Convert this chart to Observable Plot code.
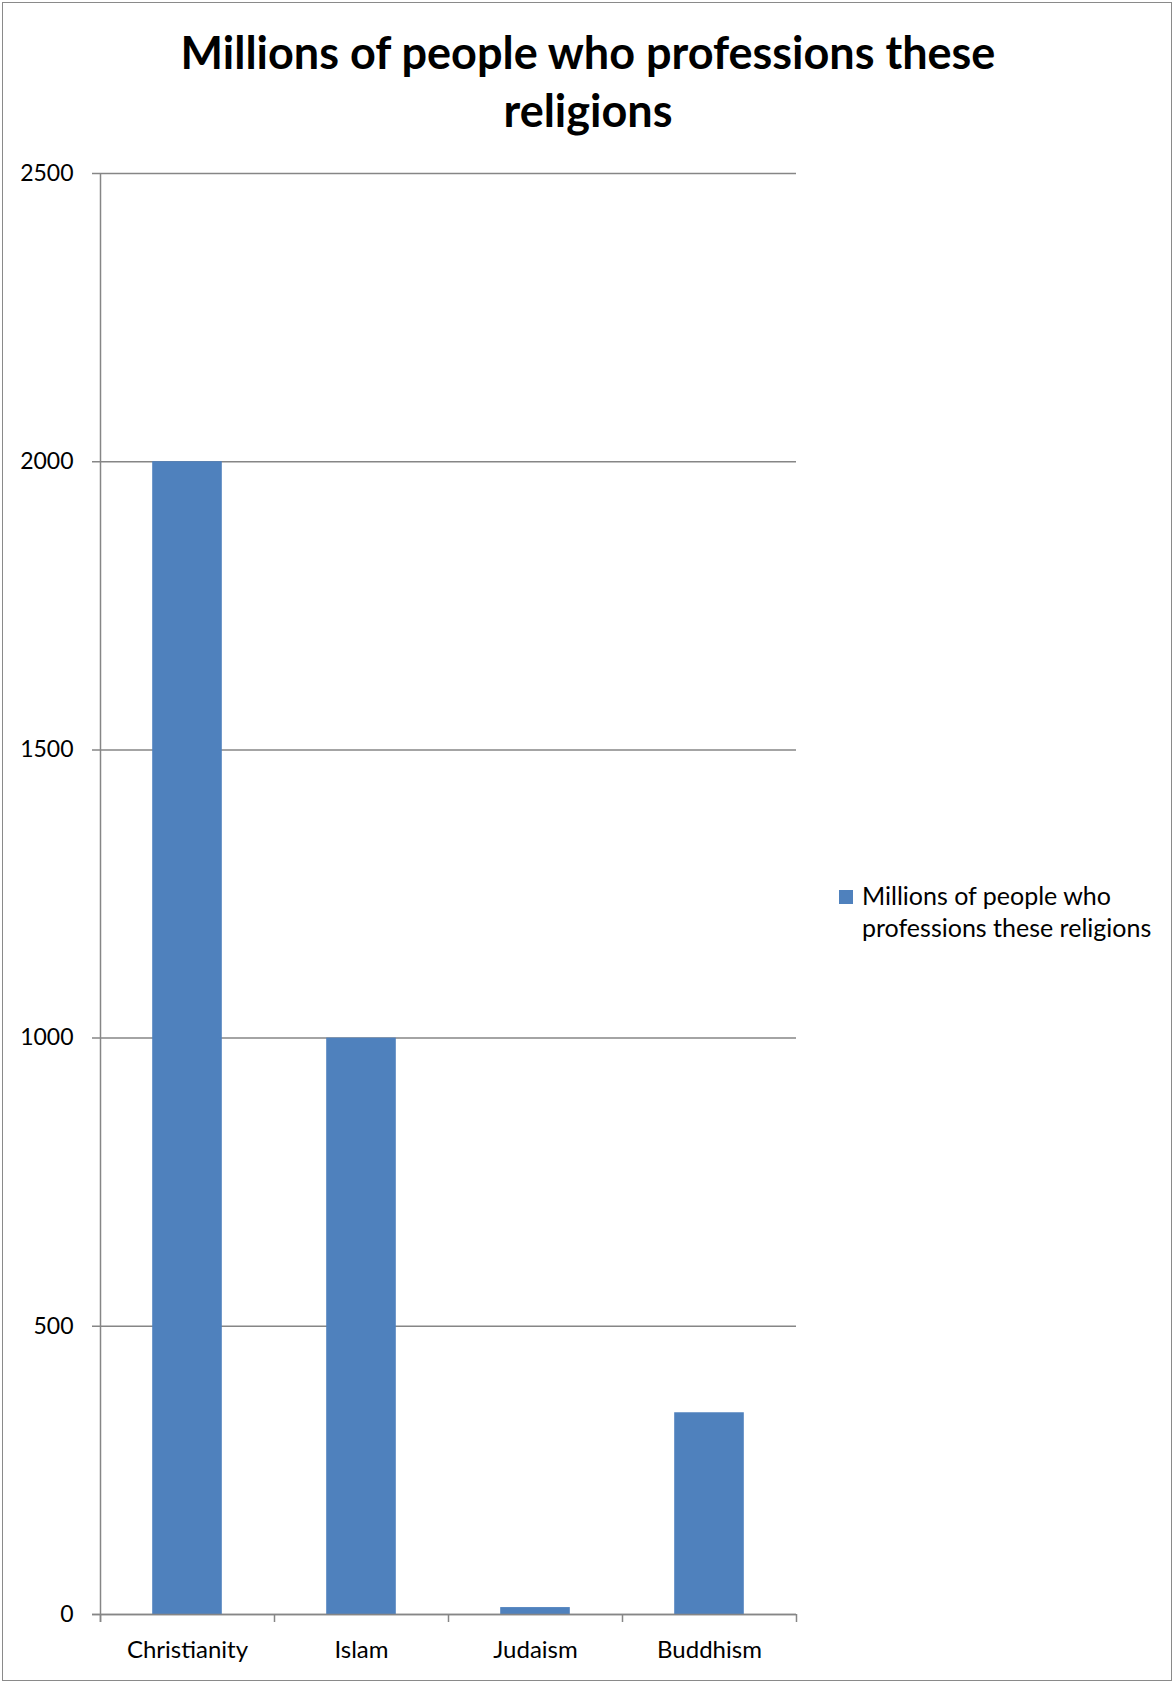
<!DOCTYPE html>
<html>
<head>
<meta charset="utf-8">
<script src="https://cdn.jsdelivr.net/npm/d3@7"></script>
<script src="https://cdn.jsdelivr.net/npm/@observablehq/plot@0.6"></script>
<style>
  html, body { margin: 0; padding: 0; background: #fff; }
  #page { position: relative; width: 1176px; height: 1682px; overflow: hidden; background: #fff; font-family: Lato, "Open Sans", sans-serif; }
  #frame { position: absolute; left: 2px; top: 2px; width: 1168px; height: 1677px; border: 1.5px solid #8a8a8a; }
  #title { position: absolute; left: 0; top: 23px; width: 1176px; text-align: center; font-weight: 700; font-size: 45px; line-height: 58px; color: #000; }
  #chart { position: absolute; left: 0; top: 0; }
  #legend { position: absolute; left: 839px; top: 879px; font-size: 25px; line-height: 32px; color: #000; }
  #legend .sw { position: absolute; left: 0; top: 11px; width: 14px; height: 14px; background: #4F81BD; }
  #legend .tx { position: absolute; left: 23px; top: 0; width: 330px; white-space: nowrap; }
</style>
</head>
<body>
<div id="page">
  <div id="frame"></div>
  <div id="title"></div>
  <div id="chart"></div>
  <div id="legend"><div class="sw"></div><div class="tx"></div></div>
</div>
<script>
const categories = ["Christianity", "Islam", "Judaism", "Buddhism"];
const values = [2000, 1000, 12, 350];
const yTicks = [0, 500, 1000, 1500, 2000, 2500];
const seriesName = "Millions of people who professions these religions";
const titleLines = ["Millions of people who professions these", "religions"];
const legendLines = ["Millions of people who", "professions these religions"];

const data = categories.map((c, i) => ({religion: c, value: values[i]}));

const W = 820, H = 1682, mL = 100, mR = 24, mT = 173, mB = 68;
const step = (W - mL - mR) / categories.length;
const gray = "#868686";
const barColor = "#4F81BD";

document.getElementById("title").innerHTML = titleLines.join("<br>");
document.querySelector("#legend .tx").innerHTML = legendLines.join("<br>");

const chart = Plot.plot({
  width: W,
  height: H,
  marginLeft: mL,
  marginRight: mR,
  marginTop: mT,
  marginBottom: mB,
  style: {fontFamily: "Lato, 'Open Sans', sans-serif", fontSize: "24px", color: "#000", background: "transparent", overflow: "visible"},
  x: {domain: categories, padding: 0, tickSize: 0, tickPadding: 26, label: null},
  y: {domain: [0, 2500], ticks: yTicks, tickSize: 0, tickPadding: 27, tickFormat: d => String(d), label: null},
  marks: [
    Plot.ruleY(yTicks, {stroke: gray, strokeWidth: 1.5, insetLeft: -8}),
    Plot.barY(data, {x: "religion", y: "value", fill: barColor, insetLeft: step * 0.3, insetRight: step * 0.3}),
    Plot.ruleY([0], {stroke: gray, strokeWidth: 1.5, insetLeft: -8}),
    Plot.ruleX(categories.slice(0, 1), {x: d => d, y1: 2500, y2: 0, dx: -step / 2, stroke: gray, strokeWidth: 1.5, insetBottom: -8}),
    Plot.ruleX(categories, {x: d => d, y1: 0, y2: 0, dx: -step / 2, stroke: gray, strokeWidth: 1.5, insetBottom: -8}),
    Plot.ruleX(categories.slice(-1), {x: d => d, y1: 0, y2: 0, dx: step / 2, stroke: gray, strokeWidth: 1.5, insetBottom: -8})
  ]
});
chart.querySelectorAll('[aria-label="y-axis tick label"] text, [aria-label="y-axis"] text').forEach(t => t.style.fontSize = "23px");
document.getElementById("chart").appendChild(chart);
</script>
</body>
</html>
